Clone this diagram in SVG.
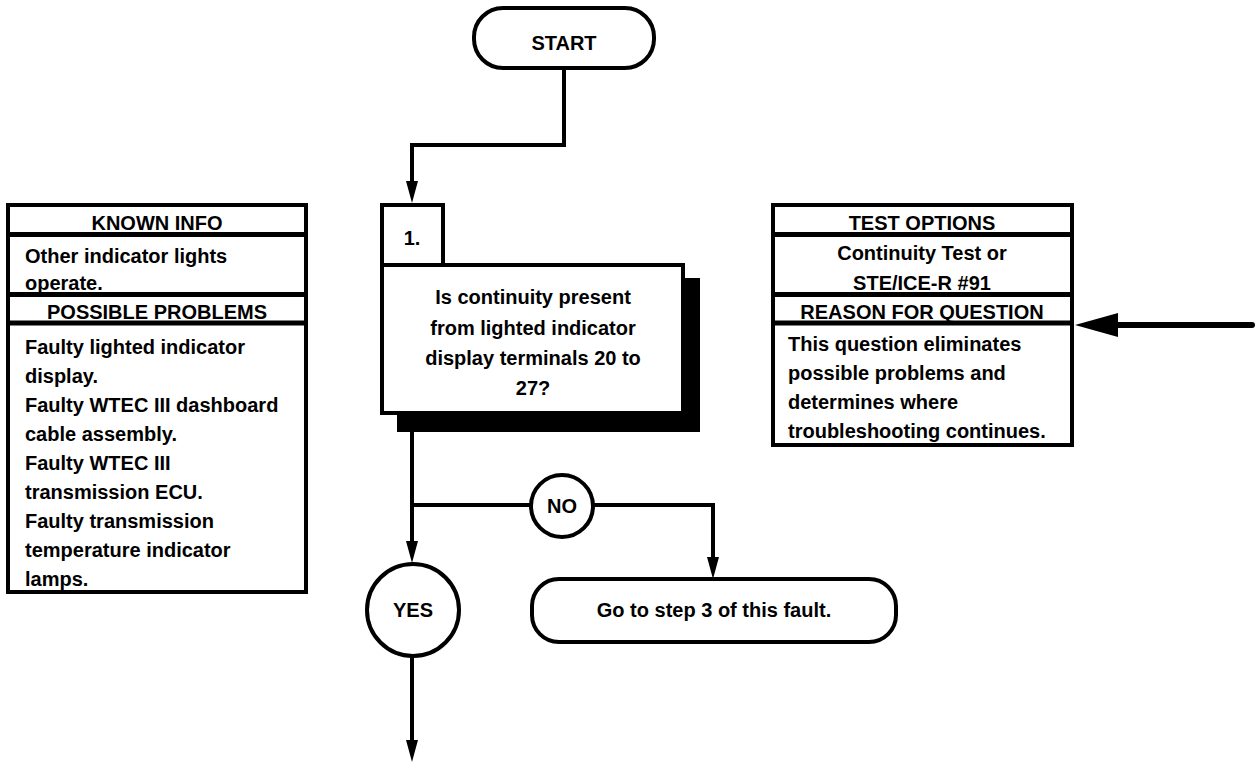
<svg xmlns="http://www.w3.org/2000/svg" width="1256" height="763" viewBox="0 0 1256 763">
<defs>
<style>
text{font-family:"Liberation Sans",Arial,sans-serif;font-weight:bold;font-size:20px;fill:#000}
.c{text-anchor:middle}
.box{fill:#fff;stroke:#000;stroke-width:4}
.sep{stroke:#000;stroke-width:5}
.ln{fill:none;stroke:#000;stroke-width:4}
</style>
<marker id="ah" markerUnits="userSpaceOnUse" markerWidth="22" markerHeight="12" refX="12" refY="6" orient="auto">
<path d="M0,0 L22,6 L0,12 z" fill="#000"/>
</marker>
</defs>
<rect width="1256" height="763" fill="#fff"/>

<g id="connectors">
<path class="ln" d="M564,68 V145 H412 V193" marker-end="url(#ah)"/>
<path class="ln" d="M412,413 V553" marker-end="url(#ah)"/>
<path class="ln" d="M412,505 H531"/>
<path class="ln" d="M593,505 H713 V569" marker-end="url(#ah)"/>
<path class="ln" d="M412,657 V752" marker-end="url(#ah)"/>
<path d="M1252,325 H1110" stroke="#000" stroke-width="6" stroke-linecap="round" fill="none"/>
<path d="M1075,325 L1118,313 L1118,337 z" fill="#000"/>
</g>

<g id="start">
<rect class="box" x="474" y="8" width="180" height="60" rx="29"/>
<text class="c" x="564" y="50">START</text>
</g>

<g id="step1">
<rect x="397" y="278" width="303" height="154" fill="#000"/>
<rect class="box" x="382" y="205" width="61" height="60"/>
<text class="c" x="412" y="245">1.</text>
<rect class="box" x="382" y="265" width="301" height="148"/>
<text class="c" x="533" y="304">Is continuity present</text>
<text class="c" x="533" y="335">from lighted indicator</text>
<text class="c" x="533" y="365">display terminals 20 to</text>
<text class="c" x="533" y="395">27?</text>
</g>

<g id="known-info">
<rect class="box" x="8" y="205" width="298" height="387"/>
<line class="sep" x1="8" y1="234.5" x2="306" y2="234.5"/>
<line class="sep" x1="8" y1="294.5" x2="306" y2="294.5"/>
<line class="sep" x1="8" y1="323" x2="306" y2="323"/>
<text class="c" x="157" y="230">KNOWN INFO</text>
<text x="25" y="263">Other indicator lights</text>
<text x="25" y="290">operate.</text>
<text class="c" x="157" y="319">POSSIBLE PROBLEMS</text>
<text x="25" y="354">Faulty lighted indicator</text>
<text x="25" y="383">display.</text>
<text x="25" y="412">Faulty WTEC III dashboard</text>
<text x="25" y="441">cable assembly.</text>
<text x="25" y="470">Faulty WTEC III</text>
<text x="25" y="499">transmission ECU.</text>
<text x="25" y="528">Faulty transmission</text>
<text x="25" y="557">temperature indicator</text>
<text x="25" y="586">lamps.</text>
</g>

<g id="test-options">
<rect class="box" x="773" y="205" width="299" height="240"/>
<line class="sep" x1="773" y1="234.5" x2="1072" y2="234.5"/>
<line class="sep" x1="773" y1="294.5" x2="1072" y2="294.5"/>
<line class="sep" x1="773" y1="323" x2="1072" y2="323"/>
<text class="c" x="922" y="230">TEST OPTIONS</text>
<text class="c" x="922" y="260">Continuity Test or</text>
<text class="c" x="922" y="290">STE/ICE-R #91</text>
<text class="c" x="922" y="319">REASON FOR QUESTION</text>
<text x="788" y="351">This question eliminates</text>
<text x="788" y="380">possible problems and</text>
<text x="788" y="409">determines where</text>
<text x="788" y="438">troubleshooting continues.</text>
</g>

<g id="no">
<circle class="box" cx="562" cy="506" r="31"/>
<text class="c" x="562" y="513">NO</text>
</g>

<g id="yes">
<circle class="box" cx="413" cy="610" r="46"/>
<text class="c" x="413" y="617">YES</text>
</g>

<g id="goto">
<rect class="box" x="532" y="579" width="364" height="63" rx="27"/>
<text class="c" x="714" y="617">Go to step 3 of this fault.</text>
</g>
</svg>
